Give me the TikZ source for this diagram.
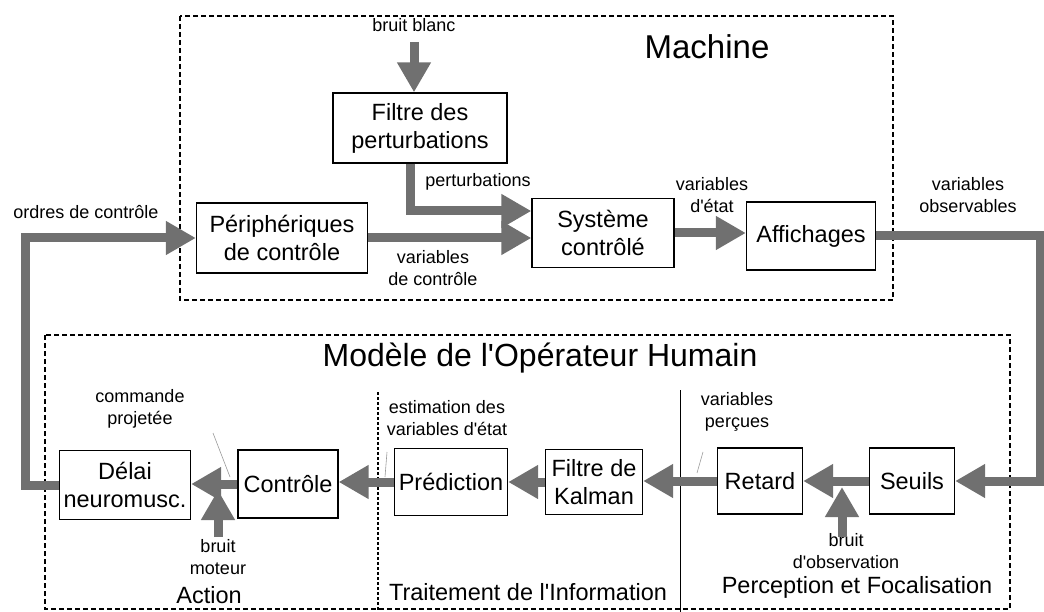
\documentclass[tikz,border=0pt]{standalone}
\usepackage{fontspec}
\setmainfont{Liberation Sans}
\usetikzlibrary{arrows.meta,positioning}
\definecolor{flux}{RGB}{112,112,112}

\begin{document}
\begin{tikzpicture}[x=1pt,y=-1pt,
  bloc/.style={draw,line width=1.3pt,inner sep=2pt,align=center,font=\fontsize{23.5}{28}\selectfont},
  etiq/.style={align=center,inner sep=1pt,font=\fontsize{18}{22}\selectfont},
  titre/.style={inner sep=1pt,font=\fontsize{23.5}{28}\selectfont},
  zone/.style={draw,line width=1.4pt,dash pattern=on 5pt off 3pt},
  fleche/.style={draw=flux,line width=9pt,-{Triangle[length=30pt,width=32pt]}},
  renvoi/.style={draw=black!40,line width=0.6pt}]
\useasboundingbox (0,0) rectangle (1044,612);

% cadres
\draw[zone] (180,16) rectangle (893,300);
\draw[zone] (45,335) rectangle (1010,609);
\draw[line width=1.3pt,densely dashed] (378,392) -- (378,612);
\draw[line width=1pt] (680,390) -- (680,612);

% blocs de la machine
\node[bloc,minimum width=174pt,minimum height=70pt] (filt) at (420,128) {Filtre des\\perturbations};
\node[bloc,minimum width=171pt,minimum height=70pt] (peri) at (282,238) {Périphériques\\de contrôle};
\node[bloc,minimum width=142pt,minimum height=69pt] (sys) at (603,233) {Système\\contrôlé};
\node[bloc,minimum width=129pt,minimum height=68pt] (aff) at (811,236) {Affichages};

% blocs de l'operateur
\node[bloc,minimum width=131pt,minimum height=69pt] (delai) at (125,485) {Délai\\neuromusc.};
\node[bloc,minimum width=100pt,minimum height=68pt] (ctrl) at (288,484) {Contrôle};
\node[bloc,minimum width=113pt,minimum height=67pt] (pred) at (451,482) {Prédiction};
\node[bloc,minimum width=97pt,minimum height=65pt] (kalm) at (594,482) {Filtre de\\Kalman};
\node[bloc,minimum width=85pt,minimum height=66pt] (ret) at (760,481) {Retard};
\node[bloc,minimum width=85pt,minimum height=66pt] (seuil) at (912,481) {Seuils};

% textes
\node[etiq] (bb) at (414,25) {bruit blanc};
\node[font=\fontsize{33}{38}\selectfont] (mach) at (707,47) {Machine};
\node[etiq] (pert) at (478,182) {perturbations};
\node[etiq] (ordres) at (86,212) {ordres de contrôle};
\node[etiq] (vctrl) at (433,268) {variables\\de contrôle};
\node[etiq] (vetat) at (712,195) {variables\\d\textquotesingle état};
\node[etiq] (vobs) at (968,195) {variables\\observables};
\node[font=\fontsize{32}{36}\selectfont] (homme) at (540,358) {Modèle de l\textquotesingle Opérateur Humain};
\node[etiq] (cmd) at (140,409) {commande\\projetée};
\node[etiq] (bmot) at (218,557) {bruit\\moteur};
\node[titre] (act) at (209,595) {Action};
\node[etiq] (est) at (447,418) {estimation des\\variables d\textquotesingle état};
\node[titre] (trt) at (528,592) {Traitement de l\textquotesingle Information};
\node[etiq] (vperc) at (737,412) {variables\\perçues};
\node[etiq] (bobs) at (846,551) {bruit\\d\textquotesingle observation};
\node[titre] (percf) at (857,587) {Perception et Focalisation};

% fleches
\coordinate (bbh) at (414,42);
\coordinate (coinD) at (1040,0);
\coordinate (coinG) at (25,0);
\coordinate (obsA) at (842,537);
\coordinate (obsB) at (842,487);
\coordinate (motA) at (218,537);
\coordinate (motB) at (218,490);
\draw[fleche] (bbh) -- (bbh |- filt.north);
\draw[fleche] ([xshift=-10pt]filt.south) |- ([yshift=22pt]sys.west);
\draw[fleche] (peri.east) -- (peri.east -| sys.west);
\draw[fleche] (sys.east) -- (sys.east -| aff.west);
\draw[fleche] (aff.east) -- (aff.east -| coinD) |- (seuil.east);
\draw[fleche] (seuil.west) -- (ret.east);
\draw[fleche] (obsA) -- (obsB);
\draw[fleche] (ret.west) -- (ret.west -| kalm.east);
\draw[fleche] (kalm.west) -- (kalm.west -| pred.east);
\draw[fleche] (pred.west) -- (pred.west -| ctrl.east);
\draw[fleche] (ctrl.west) -- (ctrl.west -| delai.east);
\draw[fleche] (motA) -- (motB);
\draw[fleche] (delai.west) -- (delai.west -| coinG) |- (peri.west);

% traits de renvoi
\coordinate (cmdA) at (213,433);
\coordinate (cmdB) at (230,477);
\coordinate (estA) at (387,452);
\coordinate (estB) at (385,477);
\coordinate (percA) at (703,452);
\coordinate (percB) at (697,473);
\draw[renvoi] (cmdA) -- (cmdB);
\draw[renvoi] (estA) -- (estB);
\draw[renvoi] (percA) -- (percB);
\end{tikzpicture}
\end{document}
